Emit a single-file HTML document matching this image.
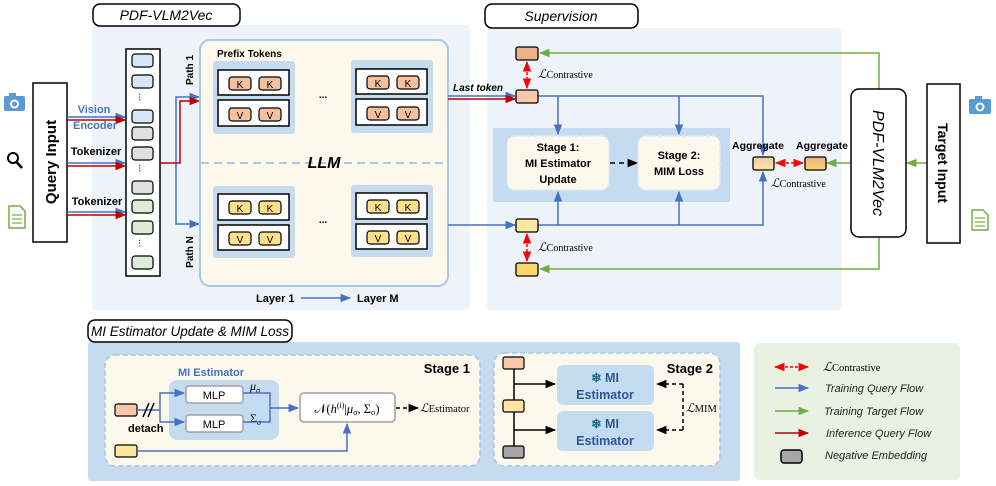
<!DOCTYPE html>
<html><head><meta charset="utf-8"><style>
body{margin:0;background:#fff}
svg{display:block;font-family:"Liberation Sans",sans-serif}
.b{font-weight:bold}
.it{font-style:italic}
.serif{font-family:"Liberation Serif",serif}
</style></head><body>
<svg width="996" height="486" viewBox="0 0 996 486" xmlns="http://www.w3.org/2000/svg">
<defs>
<marker id="ab" viewBox="0 0 10 10" refX="9" refY="5" markerWidth="7" markerHeight="7" orient="auto"><path d="M0,1 L10,5 L0,9z" fill="#4472c4"/></marker>
<marker id="ar" viewBox="0 0 10 10" refX="9" refY="5" markerWidth="7" markerHeight="7" orient="auto"><path d="M0,1 L10,5 L0,9z" fill="#c00000"/></marker>
<marker id="ag" viewBox="0 0 10 10" refX="9" refY="5" markerWidth="7" markerHeight="7" orient="auto"><path d="M0,1 L10,5 L0,9z" fill="#70ad47"/></marker>
<marker id="ak" viewBox="0 0 10 10" refX="9" refY="5" markerWidth="7" markerHeight="7" orient="auto"><path d="M0,1 L10,5 L0,9z" fill="#000"/></marker>
<marker id="arr" viewBox="0 0 10 10" refX="9" refY="5" markerWidth="7" markerHeight="7" orient="auto-start-reverse"><path d="M0,1 L10,5 L0,9z" fill="#f00"/></marker>
<linearGradient id="g1" x1="0" y1="0" x2="0" y2="1"><stop offset="0" stop-color="#f4c8a8"/><stop offset="1" stop-color="#fde6a0"/></linearGradient>
<linearGradient id="g2" x1="0" y1="0" x2="0" y2="1"><stop offset="0" stop-color="#f0b08a"/><stop offset="1" stop-color="#fbd66a"/></linearGradient>
</defs>

<rect x="92" y="25" width="378" height="285" rx="4" fill="#eef3fa"/>
<rect x="93" y="4" width="147" height="22" rx="7" fill="#fff" stroke="#000" stroke-width="1.5"/>
<text x="166" y="20" text-anchor="middle" font-size="14" class="it">PDF-VLM2Vec</text>

<rect x="4" y="96" width="21" height="15" rx="2" fill="#5b9bd5"/><rect x="9" y="93" width="7" height="4" fill="#5b9bd5"/><circle cx="14.5" cy="104" r="4.5" fill="#fff"/><circle cx="14.5" cy="104" r="2.5" fill="#5b9bd5"/>
<circle cx="13" cy="158" r="5" fill="none" stroke="#000" stroke-width="2"/><line x1="16.5" y1="162" x2="22" y2="168" stroke="#000" stroke-width="2.5"/>
<path d="M9,206 h11 l5,5 v17 h-16z" fill="#fff" stroke="#70ad47" stroke-width="1.5"/><g stroke="#70ad47" stroke-width="1.2"><line x1="12" y1="215" x2="22" y2="215"/><line x1="12" y1="219" x2="22" y2="219"/><line x1="12" y1="223" x2="22" y2="223"/></g>

<rect x="33" y="83" width="34" height="159" fill="#fff" stroke="#000" stroke-width="1.5"/>
<text transform="translate(56,162) rotate(-90)" text-anchor="middle" font-size="15" class="b">Query Input</text>

<g stroke-width="1.5" fill="none">
<line x1="67" y1="117" x2="125" y2="117" stroke="#4472c4" marker-end="url(#ab)"/>
<line x1="67" y1="120" x2="125" y2="120" stroke="#c00000" marker-end="url(#ar)"/>
<line x1="67" y1="163" x2="125" y2="163" stroke="#4472c4" marker-end="url(#ab)"/>
<line x1="67" y1="166" x2="125" y2="166" stroke="#c00000" marker-end="url(#ar)"/>
<line x1="67" y1="212" x2="125" y2="212" stroke="#4472c4" marker-end="url(#ab)"/>
<line x1="67" y1="215" x2="125" y2="215" stroke="#c00000" marker-end="url(#ar)"/>
</g>
<text x="94" y="113" text-anchor="middle" font-size="11" class="b" fill="#4472c4">Vision</text>
<text x="95" y="129" text-anchor="middle" font-size="11" class="b" fill="#4472c4">Encoder</text>
<text x="96" y="155" text-anchor="middle" font-size="11" class="b">Tokenizer</text>
<text x="97" y="205" text-anchor="middle" font-size="11" class="b">Tokenizer</text>

<rect x="126" y="49" width="34" height="227" fill="#fff" stroke="#000" stroke-width="1.5"/>
<g stroke="#000" stroke-width="1.2">
<rect x="132" y="54" width="21" height="13" rx="3" fill="#d6e6f6"/>
<rect x="132" y="75" width="21" height="13" rx="3" fill="#d6e6f6"/>
<rect x="132" y="110" width="21" height="13" rx="3" fill="#d6e6f6"/>
<rect x="132" y="127" width="21" height="13" rx="3" fill="#e0e0e0"/>
<rect x="132" y="147" width="21" height="13" rx="3" fill="#e0e0e0"/>
<rect x="132" y="181" width="21" height="13" rx="3" fill="#e0e0e0"/>
<rect x="132" y="200" width="21" height="13" rx="3" fill="#deebd6"/>
<rect x="132" y="221" width="21" height="13" rx="3" fill="#deebd6"/>
<rect x="132" y="256" width="21" height="13" rx="3" fill="#deebd6"/>
</g>
<g font-size="10" text-anchor="middle"><text x="142" y="100" transform="rotate(90 142 97)">...</text><text x="142" y="171" transform="rotate(90 142 168)">...</text><text x="142" y="246" transform="rotate(90 142 243)">...</text></g>

<g fill="none" stroke-width="1.5">
<polyline points="176,163 176,97 199,97" stroke="#4472c4" marker-end="url(#ab)"/>
<polyline points="176,163 176,224 199,224" stroke="#4472c4" marker-end="url(#ab)"/>
<polyline points="160,163 180,163 180,101 199,101" stroke="#c00000" marker-end="url(#ar)"/>
</g>
<text transform="translate(193,70) rotate(-90)" text-anchor="middle" font-size="10" class="b">Path 1</text>
<text transform="translate(193,252) rotate(-90)" text-anchor="middle" font-size="10" class="b">Path N</text>

<rect x="200" y="40" width="248" height="246" rx="10" fill="#fdf8ec" stroke="#a7c8ea" stroke-width="2"/>
<line x1="201" y1="163" x2="447" y2="163" stroke="#a7c8ea" stroke-width="2" stroke-dasharray="8,5"/>
<text x="324" y="168" text-anchor="middle" font-size="16" class="b it">LLM</text>
<text x="217" y="57" font-size="10" class="b">Prefix Tokens</text>
<g>
<rect x="213" y="61" width="82" height="73" rx="3" fill="#c5dcf0"/>
<rect x="351" y="60" width="82" height="73" rx="3" fill="#c5dcf0"/>
<rect x="213" y="186" width="82" height="72" rx="3" fill="#c5dcf0"/>
<rect x="351" y="185" width="82" height="72" rx="3" fill="#c5dcf0"/>
</g>
<g fill="#fff" stroke="#000" stroke-width="1.5">
<rect x="218" y="70" width="71" height="25"/><rect x="218" y="100" width="71" height="26"/>
<rect x="356" y="69" width="71" height="25"/><rect x="356" y="99" width="71" height="26"/>
<rect x="218" y="194" width="71" height="26"/><rect x="218" y="225" width="71" height="25"/>
<rect x="356" y="193" width="71" height="26"/><rect x="356" y="224" width="71" height="25"/>
</g>
<g stroke="#000" stroke-width="1.2" fill="#f4c0a0">
<rect x="229" y="77" width="22" height="13" rx="3"/><rect x="259" y="77" width="22" height="13" rx="3"/>
<rect x="229" y="108" width="22" height="13" rx="3"/><rect x="259" y="108" width="22" height="13" rx="3"/>
<rect x="367" y="76" width="22" height="13" rx="3"/><rect x="397" y="76" width="22" height="13" rx="3"/>
<rect x="367" y="107" width="22" height="13" rx="3"/><rect x="397" y="107" width="22" height="13" rx="3"/>
</g>
<g stroke="#000" stroke-width="1.2" fill="#fde08a">
<rect x="229" y="201" width="22" height="13" rx="3"/><rect x="259" y="201" width="22" height="13" rx="3"/>
<rect x="229" y="232" width="22" height="13" rx="3"/><rect x="259" y="232" width="22" height="13" rx="3"/>
<rect x="367" y="200" width="22" height="13" rx="3"/><rect x="397" y="200" width="22" height="13" rx="3"/>
<rect x="367" y="231" width="22" height="13" rx="3"/><rect x="397" y="231" width="22" height="13" rx="3"/>
</g>
<g font-size="10" text-anchor="middle">
<text x="240" y="88">K</text><text x="270" y="88">K</text><text x="240" y="119">V</text><text x="270" y="119">V</text>
<text x="378" y="87">K</text><text x="408" y="87">K</text><text x="378" y="118">V</text><text x="408" y="118">V</text>
<text x="240" y="212">K</text><text x="270" y="212">K</text><text x="240" y="243">V</text><text x="270" y="243">V</text>
<text x="378" y="211">K</text><text x="408" y="211">K</text><text x="378" y="242">V</text><text x="408" y="242">V</text>
<text x="323" y="98" font-weight="bold">...</text><text x="323" y="223" font-weight="bold">...</text>
</g>
<text x="256" y="302" font-size="11" class="b">Layer 1</text>
<line x1="301" y1="298" x2="350" y2="298" stroke="#4472c4" stroke-width="1.5" marker-end="url(#ab)"/>
<text x="357" y="302" font-size="11" class="b">Layer M</text>

<rect x="487" y="28" width="355" height="282" rx="4" fill="#eef3fa"/>
<rect x="485" y="4" width="153" height="24" rx="7" fill="#fff" stroke="#000" stroke-width="1.5"/>
<text x="561" y="21" text-anchor="middle" font-size="14" class="it">Supervision</text>

<text x="453" y="91" font-size="10" class="b it">Last token</text>
<line x1="448" y1="96" x2="515" y2="96" stroke="#4472c4" stroke-width="1.5" marker-end="url(#ab)"/>
<line x1="448" y1="99" x2="515" y2="99" stroke="#c00000" stroke-width="1.5" marker-end="url(#ar)"/>
<line x1="448" y1="225" x2="515" y2="225" stroke="#4472c4" stroke-width="1.5" marker-end="url(#ab)"/>

<rect x="493" y="128" width="237" height="74" fill="#c5dcf0"/>
<rect x="507" y="136" width="102" height="54" rx="8" fill="#fdf8ec" stroke="#dfe9f5" stroke-width="1.5" stroke-dasharray="4,2"/>
<rect x="638" y="136" width="82" height="54" rx="8" fill="#fdf8ec" stroke="#dfe9f5" stroke-width="1.5" stroke-dasharray="4,2"/>
<g font-size="11" class="b" text-anchor="middle">
<text x="558" y="151">Stage 1:</text><text x="558" y="167">MI Estimator</text><text x="558" y="183">Update</text>
<text x="679" y="159">Stage 2:</text><text x="679" y="175">MIM Loss</text>
</g>
<line x1="610" y1="163" x2="637" y2="163" stroke="#000" stroke-width="1.5" stroke-dasharray="5,4" marker-end="url(#ak)"/>

<g fill="none" stroke="#4472c4" stroke-width="1.5">
<polyline points="538,96 763,96 763,155" marker-end="url(#ab)"/>
<line x1="558" y1="96" x2="558" y2="134" marker-end="url(#ab)"/>
<line x1="679" y1="96" x2="679" y2="134" marker-end="url(#ab)"/>
<polyline points="538,225 763,225 763,172" marker-end="url(#ab)"/>
<line x1="558" y1="225" x2="558" y2="192" marker-end="url(#ab)"/>
<line x1="679" y1="225" x2="679" y2="192" marker-end="url(#ab)"/>
</g>

<g fill="none" stroke="#70ad47" stroke-width="1.5">
<polyline points="879,89 879,53 540,53" marker-end="url(#ag)"/>
<polyline points="879,237 879,269 540,269" marker-end="url(#ag)"/>
<line x1="851" y1="163" x2="827" y2="163" marker-end="url(#ag)"/>
<line x1="927" y1="163" x2="907" y2="163" marker-end="url(#ag)"/>
</g>

<g stroke="#000" stroke-width="1.3">
<rect x="516" y="47" width="22" height="13" rx="2" fill="#f0b08a"/>
<rect x="516" y="90" width="22" height="13" rx="2" fill="#f4c8a8"/>
<rect x="516" y="219" width="22" height="13" rx="2" fill="#fde6a0"/>
<rect x="516" y="263" width="22" height="13" rx="2" fill="#fbd66a"/>
<rect x="753" y="157" width="21" height="13" rx="2" fill="url(#g1)"/>
<rect x="805" y="157" width="21" height="13" rx="2" fill="url(#g2)"/>
</g>
<g stroke="#f00" stroke-width="1.5" stroke-dasharray="3,2" fill="none">
<line x1="527" y1="62" x2="527" y2="88" marker-start="url(#arr)" marker-end="url(#arr)"/>
<line x1="527" y1="234" x2="527" y2="261" marker-start="url(#arr)" marker-end="url(#arr)"/>
<line x1="776" y1="163" x2="803" y2="163" marker-start="url(#arr)" marker-end="url(#arr)"/>
</g>
<g class="serif" font-size="10">
<text x="538" y="78"><tspan font-style="italic" font-size="12">ℒ</tspan>Contrastive</text>
<text x="538" y="251"><tspan font-style="italic" font-size="12">ℒ</tspan>Contrastive</text>
<text x="771" y="187"><tspan font-style="italic" font-size="12">ℒ</tspan>Contrastive</text>
</g>
<text x="758" y="149" text-anchor="middle" font-size="10.5" class="b">Aggregate</text>
<text x="822" y="149" text-anchor="middle" font-size="10.5" class="b">Aggregate</text>

<rect x="851" y="89" width="55" height="148" rx="8" fill="#fff" stroke="#000" stroke-width="1.5"/>
<text transform="translate(873,163) rotate(90)" text-anchor="middle" font-size="16" class="it">PDF-VLM2Vec</text>
<rect x="927" y="84" width="33" height="159" fill="#fff" stroke="#000" stroke-width="1.5"/>
<text transform="translate(938,163) rotate(90)" text-anchor="middle" font-size="14" class="b">Target Input</text>
<rect x="969" y="99" width="22" height="15" rx="2" fill="#5b9bd5"/><rect x="975" y="96" width="7" height="4" fill="#5b9bd5"/><circle cx="980" cy="107" r="4.5" fill="#fff"/><circle cx="980" cy="107" r="2.5" fill="#5b9bd5"/>
<path d="M972,210 h11 l5,5 v15 h-16z" fill="#fff" stroke="#70ad47" stroke-width="1.5"/><g stroke="#70ad47" stroke-width="1.2"><line x1="975" y1="218" x2="985" y2="218"/><line x1="975" y1="222" x2="985" y2="222"/><line x1="975" y1="226" x2="985" y2="226"/></g>

<rect x="88" y="342" width="652" height="139" rx="3" fill="#c5dcf0"/>
<rect x="88" y="320" width="204" height="22" rx="7" fill="#fff" stroke="#000" stroke-width="1.5"/>
<text x="190" y="336" text-anchor="middle" font-size="13.5" class="it">MI Estimator Update &amp; MIM Loss</text>

<rect x="105" y="355" width="375" height="111" rx="10" fill="#fdf8ec" stroke="#a7c8ea" stroke-width="1.5" stroke-dasharray="5,3"/>
<text x="470" y="373" text-anchor="end" font-size="13" class="b">Stage 1</text>
<text x="178" y="376" font-size="11" class="b" fill="#4472c4">MI Estimator</text>
<rect x="169" y="380" width="110" height="60" rx="8" fill="#c5dcf0"/>
<rect x="186" y="386" width="57" height="17" rx="3" fill="#fff" stroke="#a0a0a0" stroke-width="1.5"/>
<rect x="186" y="415" width="57" height="17" rx="3" fill="#fff" stroke="#a0a0a0" stroke-width="1.5"/>
<text x="214" y="399" text-anchor="middle" font-size="11">MLP</text>
<text x="214" y="428" text-anchor="middle" font-size="11">MLP</text>
<text x="250" y="390" font-size="12" class="serif it">μ<tspan font-size="8" dy="3">σ</tspan></text>
<text x="250" y="422" font-size="12" class="serif">Σ<tspan font-size="8" dy="3" font-style="italic">σ</tspan></text>
<rect x="300" y="393" width="95" height="29" rx="4" fill="#fff" stroke="#a0a0a0" stroke-width="1.5"/>
<text x="347" y="413" text-anchor="middle" font-size="12.5" class="serif">𝒩(<tspan font-style="italic">h</tspan><tspan font-size="8" dy="-5">(i)</tspan><tspan dy="5">|</tspan><tspan font-style="italic">μ</tspan><tspan font-size="8" dy="2">σ</tspan><tspan dy="-2">, Σ</tspan><tspan font-size="8" dy="2">σ</tspan><tspan dy="-2">)</tspan></text>
<line x1="396" y1="408" x2="418" y2="408" stroke="#000" stroke-width="1.5" stroke-dasharray="4,3" marker-end="url(#ak)"/>
<text x="420" y="412" font-size="10.5" class="serif"><tspan font-style="italic" font-size="12">ℒ</tspan>Estimator</text>

<rect x="115" y="404" width="22" height="12" rx="2" fill="#f4c8a8" stroke="#000" stroke-width="1.2"/>
<rect x="115" y="445" width="22" height="12" rx="2" fill="#fde6a0" stroke="#000" stroke-width="1.2"/>
<g fill="none" stroke="#4472c4" stroke-width="1.5">
<line x1="137" y1="410" x2="160" y2="410"/>
<polyline points="160,410 160,393 184,393" marker-end="url(#ab)"/>
<polyline points="160,410 160,422 184,422" marker-end="url(#ab)"/>
<polyline points="243,393 270,393 270,422 243,422"/>
<line x1="270" y1="408" x2="298" y2="408" marker-end="url(#ab)"/>
<polyline points="137,451 347,451 347,424" marker-end="url(#ab)"/>
</g>
<g stroke="#000" stroke-width="1.5"><line x1="143" y1="417" x2="149" y2="403"/><line x1="148" y1="417" x2="154" y2="403"/></g>
<text x="128" y="432" font-size="11" class="b">detach</text>

<rect x="494" y="353" width="226" height="113" rx="10" fill="#fdf8ec" stroke="#a7c8ea" stroke-width="1.5" stroke-dasharray="5,3"/>
<line x1="514" y1="369" x2="514" y2="446" stroke="#000" stroke-width="1.5"/>
<rect x="503" y="357" width="21" height="12" rx="2" fill="#f4c8a8" stroke="#000" stroke-width="1.2"/>
<rect x="503" y="400" width="21" height="12" rx="2" fill="#fde6a0" stroke="#000" stroke-width="1.2"/>
<rect x="503" y="446" width="21" height="12" rx="2" fill="#a6a6a6" stroke="#000" stroke-width="1.2"/>
<line x1="514" y1="384" x2="555" y2="384" stroke="#000" stroke-width="1.5" marker-end="url(#ak)"/>
<line x1="514" y1="430" x2="555" y2="430" stroke="#000" stroke-width="1.5" marker-end="url(#ak)"/>
<rect x="557" y="365" width="97" height="40" rx="6" fill="#c5dcf0"/>
<rect x="557" y="411" width="97" height="40" rx="6" fill="#c5dcf0"/>
<g font-size="12.5" class="b" fill="#2f5597" text-anchor="middle">
<text x="605" y="382"><tspan fill="#1f6f8b">❄</tspan> MI</text><text x="605" y="399">Estimator</text>
<text x="605" y="428"><tspan fill="#1f6f8b">❄</tspan> MI</text><text x="605" y="445">Estimator</text>
</g>
<text x="713" y="373" text-anchor="end" font-size="13" class="b">Stage 2</text>
<g fill="none" stroke="#000" stroke-width="1.5" stroke-dasharray="4,3">
<polyline points="683,384 683,430"/>
<line x1="683" y1="384" x2="657" y2="384" marker-end="url(#ak)"/>
<line x1="683" y1="430" x2="657" y2="430" marker-end="url(#ak)"/>
</g>
<text x="686" y="412" font-size="10.5" class="serif"><tspan font-style="italic" font-size="12">ℒ</tspan>MIM</text>

<rect x="754" y="343" width="206" height="137" rx="5" fill="#e8f1e2"/>
<line x1="775" y1="367" x2="808" y2="367" stroke="#f00" stroke-width="1.5" stroke-dasharray="3,2" marker-start="url(#arr)" marker-end="url(#arr)"/>
<text x="823" y="371" font-size="10.5" class="serif"><tspan font-style="italic" font-size="12.5">ℒ</tspan>Contrastive</text>
<line x1="775" y1="388" x2="808" y2="388" stroke="#4472c4" stroke-width="1.5" marker-end="url(#ab)"/>
<line x1="775" y1="411" x2="808" y2="411" stroke="#70ad47" stroke-width="1.5" marker-end="url(#ag)"/>
<line x1="775" y1="433" x2="808" y2="433" stroke="#c00000" stroke-width="1.5" marker-end="url(#ar)"/>
<rect x="781" y="450" width="21" height="13" rx="3" fill="#a6a6a6" stroke="#000" stroke-width="1.5"/>
<g font-size="11" class="it" fill="#222">
<text x="825" y="392">Training Query Flow</text>
<text x="824" y="415">Training Target Flow</text>
<text x="826" y="437">Inference Query Flow</text>
<text x="825" y="459">Negative Embedding</text>
</g>
</svg>
</body></html>
